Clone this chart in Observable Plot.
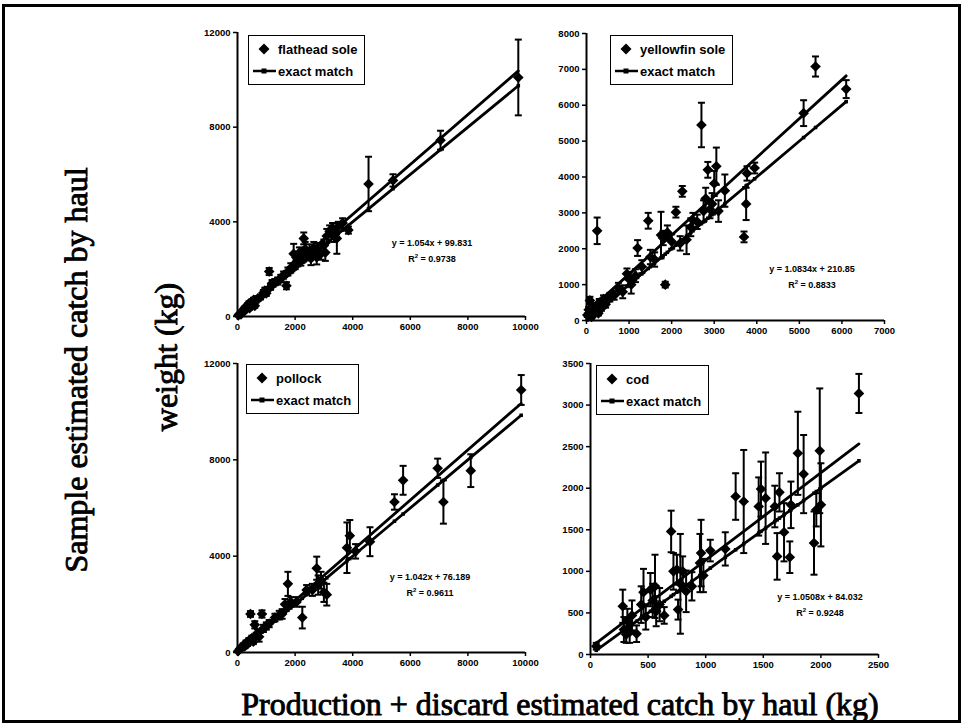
<!DOCTYPE html>
<html>
<head>
<meta charset="utf-8">
<script src="https://cdn.jsdelivr.net/npm/d3@7"></script>
<script src="https://cdn.jsdelivr.net/npm/@observablehq/plot@0.6"></script>
<style>
  body { margin: 0; background: #fff; }
  #page { position: relative; width: 963px; height: 728px; overflow: hidden; background: #fff; }
  #border { position: absolute; left: 2px; top: 4px; width: 953px; height: 713px; border: 3px solid #000; }
  .panel { position: absolute; }
  .legend { position: absolute; border: 1.5px solid #000; background: #fff;
            font: bold 13px "Liberation Sans", Arial, sans-serif; padding: 2px 7px 2px 3px; }
  .legend .row { display: flex; align-items: center; height: 22px; white-space: nowrap; }
  .legend svg { margin-right: 2px; }
  .eq { position: absolute; transform: translate(-50%, -50%); white-space: nowrap;
        font: bold 9px "Liberation Sans", Arial, sans-serif; }
  .title { position: absolute; transform: translate(-50%, -50%); white-space: nowrap;
           font: 32px "Liberation Serif", "Times New Roman", serif; color: #000;
           -webkit-text-stroke: 0.9px #000; }
  .vert { transform: translate(-50%, -50%) rotate(-90deg); }
</style>
</head>
<body>
<div id="page">
  <div id="border"></div>
</div>
<script>
// Haul-level catch estimates: production + discard (x) vs. sample estimate (y), with error half-widths.
const flatheadX   = [30, 80, 120, 180, 220, 260, 300, 350, 400, 420, 480, 520, 560, 600, 650, 700, 800, 900, 950, 1000, 1100, 1150, 1200, 1300, 1400, 1500, 1600, 1700, 1750, 1850, 1950, 2000, 2050, 2150, 2200, 2300, 2350, 2400, 2500, 2550, 2650, 2750, 2800, 2900, 3000, 3050, 3100, 3200, 3300, 3350, 3450, 3500, 3650, 3850, 4550, 5400, 7050, 9750];
const flatheadY   = [50, 120, 90, 250, 200, 380, 320, 480, 560, 350, 620, 500, 700, 450, 680, 760, 820, 1000, 1100, 980, 1900, 1250, 1400, 1450, 1500, 1600, 1750, 1300, 1900, 2050, 2650, 2250, 2500, 2700, 2400, 3300, 2850, 2600, 2750, 2450, 2900, 2500, 2800, 2650, 3000, 2700, 3400, 3600, 3750, 3450, 3300, 3800, 3950, 3650, 5600, 5750, 7450, 10100];
const flatheadErr = [20, 30, 30, 40, 40, 50, 60, 60, 80, 60, 80, 70, 90, 80, 90, 100, 100, 120, 120, 110, 150, 120, 140, 130, 150, 160, 150, 150, 170, 200, 420, 250, 200, 220, 250, 250, 300, 220, 300, 280, 250, 300, 300, 250, 250, 350, 300, 250, 200, 300, 650, 200, 200, 150, 1150, 260, 400, 1600];

const yellowfinX   = [20, 50, 80, 120, 150, 200, 250, 280, 300, 350, 400, 450, 550, 650, 750, 850, 950, 1000, 1050, 1150, 1200, 1300, 1450, 1500, 1600, 1750, 1800, 1850, 1900, 2000, 2100, 2200, 2250, 2350, 2450, 2500, 2600, 2700, 2750, 2800, 2850, 2900, 2950, 3000, 3050, 3100, 3250, 3700, 3750, 3770, 3950, 5100, 5380, 6100];
const yellowfinY   = [150, 300, 560, 100, 400, 250, 2500, 200, 500, 350, 600, 450, 650, 700, 900, 800, 1300, 1150, 1000, 1250, 2020, 1500, 2780, 1770, 1700, 2380, 2300, 1000, 2450, 2200, 3020, 2150, 3600, 2250, 2600, 2800, 2750, 5450, 3050, 3400, 4200, 3100, 3250, 3820, 4300, 3050, 3620, 2330, 3250, 4100, 4250, 5780, 7080, 6450];
const yellowfinErr = [50, 80, 100, 50, 80, 60, 370, 60, 100, 80, 100, 90, 120, 120, 150, 180, 150, 200, 250, 180, 220, 180, 220, 200, 200, 650, 200, 80, 200, 200, 150, 200, 150, 400, 250, 200, 200, 620, 300, 300, 220, 250, 300, 350, 520, 300, 450, 150, 450, 200, 150, 360, 280, 250];

const pollockX   = [20, 80, 150, 200, 250, 300, 350, 400, 450, 500, 550, 600, 650, 700, 750, 850, 900, 1000, 1100, 1300, 1450, 1550, 1650, 1750, 1850, 2050, 2250, 2400, 2600, 2750, 2800, 2900, 3000, 3100, 3800, 3900, 4100, 4600, 5450, 5750, 6950, 7150, 8100, 9850];
const pollockY   = [50, 150, 200, 300, 250, 400, 350, 500, 1600, 600, 450, 1150, 700, 800, 650, 1600, 1000, 1100, 1200, 1450, 1550, 1600, 2000, 2850, 2100, 2100, 1450, 2600, 2600, 3500, 2800, 3000, 2500, 2400, 4350, 4850, 4200, 4600, 6250, 7150, 7650, 6250, 7550, 10900];
const pollockErr = [30, 50, 60, 80, 60, 100, 80, 100, 120, 100, 100, 150, 120, 150, 200, 150, 150, 150, 150, 160, 180, 200, 220, 500, 200, 200, 450, 200, 250, 480, 400, 350, 400, 450, 1050, 650, 300, 600, 320, 600, 400, 900, 680, 620];

const codX   = [50, 280, 290, 310, 320, 340, 360, 400, 440, 460, 480, 520, 540, 560, 570, 600, 640, 700, 720, 750, 760, 780, 800, 830, 880, 950, 960, 980, 1040, 1170, 1260, 1330, 1460, 1480, 1520, 1600, 1620, 1640, 1680, 1730, 1740, 1800, 1850, 1940, 1960, 1990, 2000, 2330];
const codY   = [100, 580, 300, 240, 400, 270, 470, 250, 600, 750, 450, 780, 650, 820, 520, 600, 470, 1480, 1000, 1020, 540, 850, 1000, 760, 820, 1100, 1220, 950, 1250, 1270, 1900, 1840, 1780, 1990, 1880, 1780, 1180, 1950, 1470, 1170, 1800, 2420, 2170, 1340, 1740, 2450, 1800, 3140];
const codErr = [40, 200, 150, 100, 150, 130, 180, 100, 220, 280, 150, 200, 200, 380, 180, 200, 100, 250, 220, 180, 120, 600, 180, 250, 170, 350, 400, 200, 130, 200, 280, 620, 350, 330, 550, 250, 280, 230, 350, 190, 280, 500, 470, 380, 200, 750, 500, 235];

// Fitted trend lines as printed on each panel
const species    = ["flathead sole", "yellowfin sole", "pollock", "cod"];
const slopes     = [1.054, 1.0834, 1.042, 1.0508];
const intercepts = [99.831, 210.85, 76.189, 84.032];
const rSquared   = ["0.9738", "0.8833", "0.9611", "0.9248"];
const equations  = ["y = 1.054x + 99.831", "y = 1.0834x + 210.85", "y = 1.042x + 76.189", "y = 1.0508x + 84.032"];

// Axis extents and ticks
const xTicksBig = [0, 2000, 4000, 6000, 8000, 10000];
const yTicksBig = [0, 4000, 8000, 12000];
const xTicksYf  = [0, 1000, 2000, 3000, 4000, 5000, 6000, 7000];
const yTicksYf  = [0, 1000, 2000, 3000, 4000, 5000, 6000, 7000, 8000];
const xTicksCod = [0, 500, 1000, 1500, 2000, 2500];
const yTicksCod = [0, 500, 1000, 1500, 2000, 2500, 3000, 3500];

// Horizontal cap drawn at each end of an error bar
const cap = {
  draw(context, size) {
    const w = Math.sqrt(size / Math.PI);
    context.moveTo(-w, 0);
    context.lineTo(w, 0);
  }
};

const M = {left: 40, right: 22, top: 8, bottom: 22};
const page = document.getElementById("page");

function panel({xs, ys, errs, k, xTicks, yTicks, axisLeft, plotTop, plotW, plotH}) {
  const data = xs.map((x, i) => ({x, y: ys[i], e: errs[i]}));
  const [xLo, xHi] = d3.extent(xs);
  const fit = [xLo, xHi].map(x => ({x, y: slopes[k] * x + intercepts[k]}));
  const exact = xs.slice().sort(d3.ascending).map(x => ({x, y: x}));
  const chart = Plot.plot({
    width: M.left + plotW + M.right,
    height: M.top + plotH + M.bottom,
    marginLeft: M.left, marginRight: M.right, marginTop: M.top, marginBottom: M.bottom,
    style: {fontFamily: '"Liberation Sans", Arial, sans-serif', fontSize: "9.5px", fontWeight: "bold", color: "#000", background: "transparent"},
    x: {domain: [0, d3.max(xTicks)]},
    y: {domain: [0, d3.max(yTicks)]},
    marks: [
      Plot.axisY({ticks: yTicks, tickSize: 4, tickPadding: 3, tickFormat: d3.format("d"), label: null, strokeWidth: 1.5}),
      Plot.axisX({ticks: xTicks, tickSize: 4, tickPadding: 3, tickFormat: d3.format("d"), label: null, strokeWidth: 1.5}),
      Plot.ruleX(data, {x: "x", y1: d => Math.max(0, d.y - d.e), y2: d => d.y + d.e, stroke: "#000", strokeWidth: 2}),
      Plot.dot(data, {x: "x", y: d => d.y + d.e, symbol: cap, r: 3.5, fill: "none", stroke: "#000", strokeWidth: 2}),
      Plot.dot(data.filter(d => d.y - d.e > 0), {x: "x", y: d => d.y - d.e, symbol: cap, r: 3.5, fill: "none", stroke: "#000", strokeWidth: 2}),
      Plot.dot(data, {x: "x", y: "y", symbol: "diamond2", r: 4.8, fill: "#000"}),
      Plot.line(exact, {x: "x", y: "y", stroke: "#000", strokeWidth: 2.8}),
      Plot.dot(exact, {x: "x", y: "y", symbol: "square", r: 2, fill: "#000"}),
      Plot.line(fit, {x: "x", y: "y", stroke: "#000", strokeWidth: 2.8}),
      Plot.ruleX([0], {stroke: "#000", strokeWidth: 2}),
      Plot.ruleY([0], {stroke: "#000", strokeWidth: 2})
    ]
  });
  chart.classList.add("panel");
  chart.style.left = (axisLeft - M.left) + "px";
  chart.style.top = (plotTop - M.top) + "px";
  page.appendChild(chart);
}

function legend(k, left, top) {
  const box = document.createElement("div");
  box.className = "legend";
  box.style.left = left + "px";
  box.style.top = top + "px";
  box.innerHTML =
    `<div class="row"><svg width="24" height="14"><path d="M12,1.5 L17.5,7 L12,12.5 L6.5,7Z" fill="#000"/></svg>${species[k]}</div>` +
    `<div class="row"><svg width="24" height="14"><line x1="1" y1="7" x2="24" y2="7" stroke="#000" stroke-width="2.5"/><rect x="9.5" y="4.5" width="5" height="5" fill="#000"/></svg>exact match</div>`;
  page.appendChild(box);
}

function equation(k, cx, cy) {
  const a = document.createElement("div");
  a.className = "eq";
  a.style.left = cx + "px"; a.style.top = cy + "px";
  a.textContent = equations[k];
  const b = document.createElement("div");
  b.className = "eq";
  b.style.left = cx + "px"; b.style.top = (cy + 15) + "px";
  b.innerHTML = "R<sup style='font-size:6px'>2</sup> = " + rSquared[k];
  page.appendChild(a); page.appendChild(b);
}

function title(text, cx, cy, vertical) {
  const t = document.createElement("div");
  t.className = "title" + (vertical ? " vert" : "");
  t.style.left = cx + "px"; t.style.top = cy + "px";
  t.textContent = text;
  page.appendChild(t);
}

panel({xs: flatheadX, ys: flatheadY, errs: flatheadErr, k: 0, xTicks: xTicksBig, yTicks: yTicksBig, axisLeft: 237, plotTop: 32, plotW: 288, plotH: 284});
panel({xs: yellowfinX, ys: yellowfinY, errs: yellowfinErr, k: 1, xTicks: xTicksYf, yTicks: yTicksYf, axisLeft: 586, plotTop: 33, plotW: 298, plotH: 287});
panel({xs: pollockX, ys: pollockY, errs: pollockErr, k: 2, xTicks: xTicksBig, yTicks: yTicksBig, axisLeft: 237, plotTop: 363, plotW: 288, plotH: 289});
panel({xs: codX, ys: codY, errs: codErr, k: 3, xTicks: xTicksCod, yTicks: yTicksCod, axisLeft: 590, plotTop: 363, plotW: 288, plotH: 291});

legend(0, 248, 35);
legend(1, 610, 35);
legend(2, 246, 364);
legend(3, 596, 365);

equation(0, 432, 243);
equation(1, 812, 269);
equation(2, 430, 577);
equation(3, 820, 597);

title("Sample estimated catch by haul", 76, 370, true);
title("weight (kg)", 166, 357, true);
title("Production + discard estimated catch by haul (kg)", 560, 704, false);
</script>
</body>
</html>
